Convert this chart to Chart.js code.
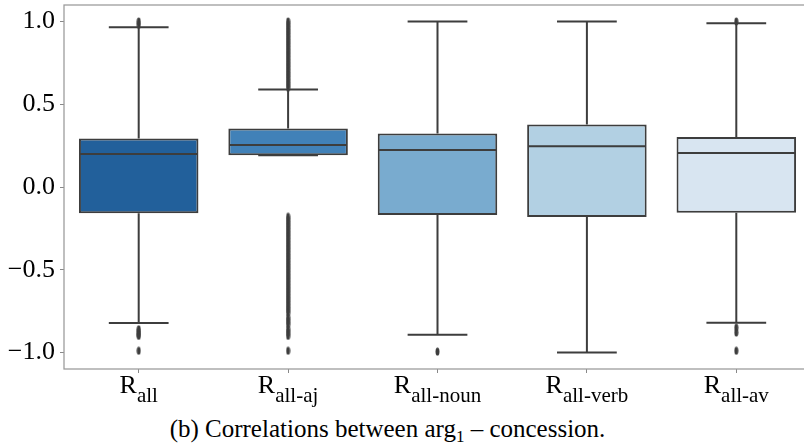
<!DOCTYPE html>
<html>
<head>
<meta charset="utf-8">
<script src="https://cdn.jsdelivr.net/npm/chart.js@4"></script>
<style>
  html, body { margin: 0; padding: 0; background: #fff; overflow: hidden; }
  #wrap { position: relative; width: 804px; height: 447px; overflow: hidden; }
  #chart { position: absolute; left: 0; top: 0; }
  #caption {
    position: absolute; left: 0; top: 416px; width: 775px;
    text-align: center; font: 25px 'Liberation Serif', serif; line-height: 25px;
    color: #000; white-space: nowrap;
  }
  #caption sub { font-size: 17px; vertical-align: baseline; position: relative; top: 5px; }
</style>
</head>
<body>
<div id="wrap">
  <canvas id="chart" width="816" height="410"></canvas>
  <div id="caption">(b) Correlations between arg<sub>1</sub> – concession.</div>
</div>
<script>
// box plot values
const categories = ['all', 'all-aj', 'all-noun', 'all-verb', 'all-av'];
const lowerWhisker = [-0.822, 0.192, -0.893, -1.0, -0.82];
const q1 = [-0.159, 0.192, -0.169, -0.181, -0.155];
const medians = [0.200, 0.254, 0.224, 0.246, 0.206];
const q3 = [0.293, 0.353, 0.323, 0.377, 0.302];
const upperWhisker = [0.966, 0.59, 1.0, 1.0, 0.99];
const outliers = [
    [0.98, 1.0, -0.86, -0.875, -0.89, -0.90, -0.99],
    [0.60, 0.62, 0.64, 0.66, 0.68, 0.70, 0.72, 0.74, 0.76, 0.78, 0.80, 0.82, 0.84, 0.86, 0.88, 0.90, 0.92, 0.94, 0.96, 0.98, 1.00,
     -0.18, -0.20, -0.22, -0.24, -0.26, -0.28, -0.30, -0.32, -0.34, -0.36, -0.38, -0.40, -0.42, -0.44, -0.46, -0.48, -0.50,
     -0.52, -0.54, -0.56, -0.58, -0.60, -0.62, -0.64, -0.66, -0.68, -0.70, -0.72, -0.74, -0.76,
     -0.79, -0.81, -0.83, -0.86, -0.88, -0.90, -0.99],
    [-0.995],
    [],
    [1.0, -0.85, -0.88, -0.99]
];
const yTicks = [-1.0, -0.5, 0.0, 0.5, 1.0];

const boxColors = ['#22609b', '#4181b8', '#79abcf', '#b2d0e3', '#d8e5f1'];
const lineColor = '#3d3d3d';
const serif = "'Liberation Serif', serif";

// small upright ellipse marker for the fliers
const flier = document.createElement('canvas');
flier.width = 5;
flier.height = 9;
const fctx = flier.getContext('2d');
fctx.fillStyle = lineColor;
fctx.beginPath();
fctx.ellipse(2.5, 4.5, 2, 4, 0, 0, Math.PI * 2);
fctx.fill();

const outlierPoints = outliers.flatMap((vals, i) => vals.map(v => ({ x: categories[i], y: v })));

const boxLines = {
    id: 'boxLines',
    afterDatasetsDraw(chart) {
        const { ctx, scales: { x, y } } = chart;
        const bars = chart.getDatasetMeta(0).data;
        ctx.save();
        ctx.strokeStyle = lineColor;
        ctx.lineWidth = 2;
        categories.forEach((c, i) => {
            const cx = x.getPixelForTick(i);
            const half = bars[i].width / 2;
            const cap = half / 2;
            const yTop = y.getPixelForValue(upperWhisker[i]);
            const yLow = y.getPixelForValue(lowerWhisker[i]);
            ctx.beginPath();
            // whiskers
            ctx.moveTo(cx, y.getPixelForValue(q3[i]));
            ctx.lineTo(cx, yTop);
            ctx.moveTo(cx, y.getPixelForValue(q1[i]));
            ctx.lineTo(cx, yLow);
            // caps
            ctx.moveTo(cx - cap, yTop);
            ctx.lineTo(cx + cap, yTop);
            ctx.moveTo(cx - cap, yLow);
            ctx.lineTo(cx + cap, yLow);
            // median
            const ym = y.getPixelForValue(medians[i]);
            ctx.moveTo(cx - half + 1, ym);
            ctx.lineTo(cx + half - 1, ym);
            ctx.stroke();
        });
        ctx.restore();
    },
    afterDraw(chart) {
        const { ctx, chartArea: a, scales: { x } } = chart;
        ctx.save();
        // frame
        ctx.strokeStyle = '#999';
        ctx.lineWidth = 1.25;
        ctx.strokeRect(a.left, a.top, a.right - a.left, a.bottom - a.top);
        // category labels R with subscript
        ctx.fillStyle = '#000';
        ctx.textAlign = 'left';
        ctx.textBaseline = 'alphabetic';
        categories.forEach((c, i) => {
            const px = x.getPixelForTick(i);
            ctx.font = '26px ' + serif;
            const wR = ctx.measureText('R').width;
            ctx.font = '21px ' + serif;
            const wS = ctx.measureText(c).width;
            const left = px - (wR + wS) / 2;
            ctx.font = '26px ' + serif;
            ctx.fillText('R', left, a.bottom + 24);
            ctx.font = '21px ' + serif;
            ctx.fillText(c, left + wR, a.bottom + 33);
        });
        ctx.restore();
    }
};

new Chart(document.getElementById('chart'), {
    type: 'bar',
    data: {
        labels: categories,
        datasets: [{
            data: categories.map((c, i) => [q1[i], q3[i]]),
            backgroundColor: boxColors,
            borderColor: lineColor,
            borderWidth: 2,
            borderSkipped: false,
            barPercentage: 0.8,
            categoryPercentage: 1.0
        }, {
            type: 'line',
            data: outlierPoints,
            showLine: false,
            pointStyle: flier,
            pointRadius: 3,
            pointBackgroundColor: lineColor,
            pointBorderColor: lineColor
        }]
    },
    options: {
        responsive: false,
        animation: false,
        events: [],
        layout: { padding: { top: 5, right: 3, left: 0, bottom: 0 } },
        plugins: {
            legend: { display: false },
            tooltip: { enabled: false }
        },
        scales: {
            x: {
                offset: true,
                ticks: { display: false },
                grid: { offset: false, drawOnChartArea: false, tickLength: 4, color: '#888' },
                border: { display: false },
                afterFit: s => { s.height = 41; s.paddingLeft = 0; s.paddingRight = 0; }
            },
            y: {
                min: -1.1,
                max: 1.1,
                afterBuildTicks: s => { s.ticks = yTicks.map(v => ({ value: v })); },
                afterFit: s => { s.width = 64; s.paddingTop = 0; s.paddingBottom = 0; },
                ticks: {
                    color: '#000',
                    padding: 5,
                    font: { family: serif, size: 26 },
                    callback: v => v.toFixed(1).replace('-', '\u2212')
                },
                grid: { drawOnChartArea: false, tickLength: 4, color: '#888' },
                border: { display: false }
            }
        }
    },
    plugins: [boxLines]
});
</script>
</body>
</html>
